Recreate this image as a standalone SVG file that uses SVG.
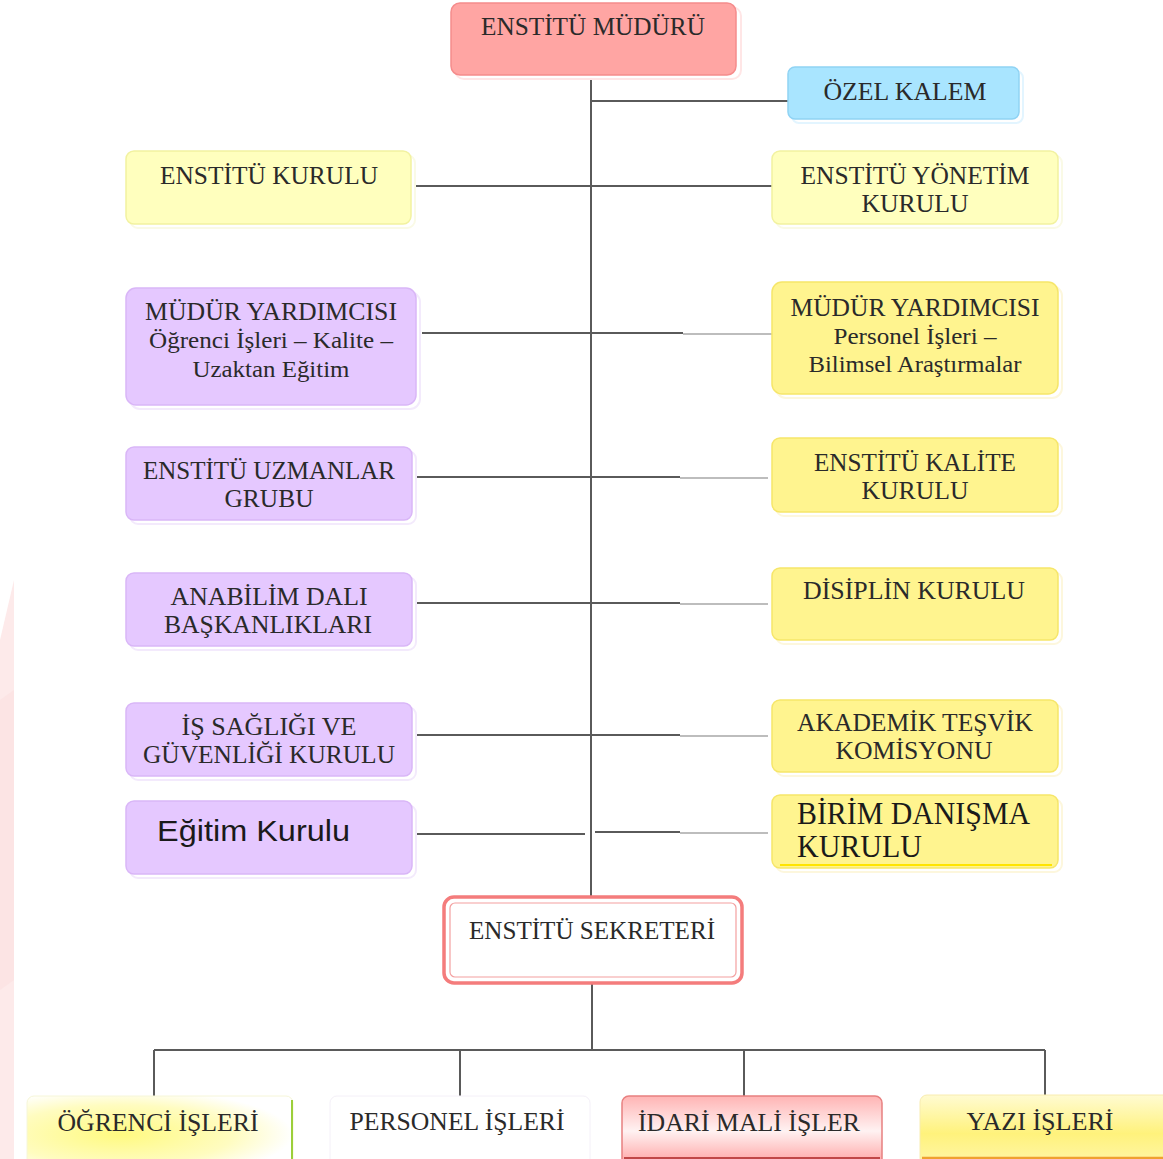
<svg xmlns="http://www.w3.org/2000/svg" width="1163" height="1159" viewBox="0 0 1163 1159">
<defs>
<style>
.t{font-family:"Liberation Serif","Times New Roman",serif;font-size:25px;fill:#2a2a2a;text-anchor:middle}
.m{font-size:23px}
.s{font-family:"Liberation Sans",Arial,sans-serif;font-size:30px;fill:#1a1a1a}
.b{font-size:31px;text-anchor:start;fill:#1a1a1a}
.ln{stroke:#5a5a5a;stroke-width:2;fill:none}
.lt{stroke:#bdbdbd;stroke-width:2;fill:none}
.lav{fill:#e5c8ff;stroke:#d9b6f7;stroke-width:1.5}
.yel{fill:#fff48f;stroke:#f6e66a;stroke-width:1.5}
.ly{fill:#ffffbe;stroke:#f2f2a0;stroke-width:1.5}
</style>
<linearGradient id="gRed" x1="0" y1="0" x2="0" y2="1">
<stop offset="0" stop-color="#ffb4b4"/><stop offset="0.5" stop-color="#fff2f2"/><stop offset="1" stop-color="#ff9f9f"/>
</linearGradient>
<linearGradient id="gYaz" x1="0" y1="0" x2="0" y2="1">
<stop offset="0" stop-color="#fffbd2"/><stop offset="0.55" stop-color="#fff27c"/><stop offset="1" stop-color="#fff6a8"/>
</linearGradient>
<radialGradient id="gOgr" cx="0.35" cy="0.55" r="0.65">
<stop offset="0" stop-color="#fffa80"/><stop offset="0.65" stop-color="#fffcc0"/><stop offset="1" stop-color="#ffffff"/>
</radialGradient>
</defs>
<rect width="1163" height="1159" fill="#fff"/>
<polygon points="0,640 14,580 14,1159 0,1159" fill="#fdeaea"/>
<polygon points="0,700 14,690 14,980 0,990" fill="#fce4e4"/>

<g id="connectors">
<line class="ln" x1="591" y1="78" x2="591" y2="896"/>
<line class="ln" x1="591" y1="101" x2="788" y2="101"/>
<line class="ln" x1="411" y1="186" x2="772" y2="186"/>
<line class="ln" x1="422" y1="333" x2="683" y2="333"/>
<line class="lt" x1="683" y1="334" x2="772" y2="334"/>
<line class="ln" x1="417" y1="477" x2="680" y2="477"/>
<line class="lt" x1="680" y1="478" x2="768" y2="478"/>
<line class="ln" x1="417" y1="603" x2="680" y2="603"/>
<line class="lt" x1="680" y1="604" x2="768" y2="604"/>
<line class="ln" x1="417" y1="735" x2="680" y2="735"/>
<line class="lt" x1="680" y1="736" x2="768" y2="736"/>
<line class="ln" x1="417" y1="834" x2="585" y2="834"/>
<line class="ln" x1="595" y1="832" x2="680" y2="832"/>
<line class="lt" x1="680" y1="833" x2="768" y2="833"/>
<line class="ln" x1="592" y1="984" x2="592" y2="1050"/>
<line class="ln" x1="154" y1="1050" x2="1045" y2="1050"/>
<line class="ln" x1="154" y1="1050" x2="154" y2="1096"/>
<line class="ln" x1="460" y1="1050" x2="460" y2="1096"/>
<line class="ln" x1="744" y1="1050" x2="744" y2="1096"/>
<line class="ln" x1="1045" y1="1050" x2="1045" y2="1096"/>
</g>

<g id="mudur">
<rect x="455" y="7" width="286" height="72" rx="9" fill="#fff" stroke="#ffe6e6" stroke-width="2"/>
<rect x="451" y="3" width="285" height="72" rx="9" fill="#ffa5a3" stroke="#f58c8c" stroke-width="1.5"/>
<text class="t" x="593" y="35" textLength="224" lengthAdjust="spacingAndGlyphs">ENSTİTÜ MÜDÜRÜ</text>
</g>

<g id="ozel-kalem">
<rect x="792" y="71" width="231" height="52" rx="7" fill="#fff" stroke="#e3f5ff" stroke-width="2"/>
<rect x="788" y="67" width="231" height="52" rx="7" fill="#a9e5ff" stroke="#90d3f4" stroke-width="1.5"/>
<text class="t" x="905" y="100" textLength="163" lengthAdjust="spacingAndGlyphs">ÖZEL KALEM</text>
</g>

<g id="enstitu-kurulu">
<rect x="130" y="155" width="285" height="73" rx="8" fill="#fff" stroke="#fafae6" stroke-width="2"/>
<rect class="ly" x="126" y="151" width="285" height="73" rx="8"/>
<text class="t" x="269" y="184" textLength="218" lengthAdjust="spacingAndGlyphs">ENSTİTÜ KURULU</text>
</g>

<g id="yonetim-kurulu">
<rect x="776" y="155" width="286" height="73" rx="8" fill="#fff" stroke="#fafae6" stroke-width="2"/>
<rect class="ly" x="772" y="151" width="286" height="73" rx="8"/>
<text class="t" x="915" y="184" textLength="229" lengthAdjust="spacingAndGlyphs">ENSTİTÜ YÖNETİM</text>
<text class="t" x="915" y="212" textLength="107" lengthAdjust="spacingAndGlyphs">KURULU</text>
</g>

<g id="my-sol">
<rect x="130" y="292" width="290" height="117" rx="10" fill="#fff" stroke="#f3eafc" stroke-width="2"/>
<rect class="lav" x="126" y="288" width="290" height="117" rx="10"/>
<text class="t" x="271" y="320" textLength="252" lengthAdjust="spacingAndGlyphs">MÜDÜR YARDIMCISI</text>
<text class="t m" x="271" y="348" textLength="244" lengthAdjust="spacingAndGlyphs">Öğrenci İşleri – Kalite –</text>
<text class="t m" x="271" y="377" textLength="157" lengthAdjust="spacingAndGlyphs">Uzaktan Eğitim</text>
</g>

<g id="my-sag">
<rect x="776" y="286" width="286" height="112" rx="10" fill="#fff" stroke="#fdf7dd" stroke-width="2"/>
<rect class="yel" x="772" y="282" width="286" height="112" rx="10"/>
<text class="t" x="915" y="316" textLength="249" lengthAdjust="spacingAndGlyphs">MÜDÜR YARDIMCISI</text>
<text class="t m" x="915" y="344" textLength="163" lengthAdjust="spacingAndGlyphs">Personel İşleri –</text>
<text class="t m" x="915" y="372" textLength="213" lengthAdjust="spacingAndGlyphs">Bilimsel  Araştırmalar</text>
</g>

<g id="uzmanlar">
<rect x="130" y="451" width="286" height="73" rx="8" fill="#fff" stroke="#f3eafc" stroke-width="2"/>
<rect class="lav" x="126" y="447" width="286" height="73" rx="8"/>
<text class="t" x="269" y="479" textLength="252" lengthAdjust="spacingAndGlyphs">ENSTİTÜ UZMANLAR</text>
<text class="t" x="269" y="507" textLength="89" lengthAdjust="spacingAndGlyphs">GRUBU</text>
</g>

<g id="kalite-kurulu">
<rect x="776" y="442" width="286" height="74" rx="8" fill="#fff" stroke="#fdf7dd" stroke-width="2"/>
<rect class="yel" x="772" y="438" width="286" height="74" rx="8"/>
<text class="t" x="915" y="471" textLength="202" lengthAdjust="spacingAndGlyphs">ENSTİTÜ KALİTE</text>
<text class="t" x="915" y="499" textLength="107" lengthAdjust="spacingAndGlyphs">KURULU</text>
</g>

<g id="anabilim">
<rect x="130" y="577" width="286" height="73" rx="8" fill="#fff" stroke="#f3eafc" stroke-width="2"/>
<rect class="lav" x="126" y="573" width="286" height="73" rx="8"/>
<text class="t" x="269" y="605" textLength="197" lengthAdjust="spacingAndGlyphs">ANABİLİM DALI</text>
<text class="t" x="268" y="633" textLength="208" lengthAdjust="spacingAndGlyphs">BAŞKANLIKLARI</text>
</g>

<g id="disiplin">
<rect x="776" y="572" width="286" height="72" rx="8" fill="#fff" stroke="#fdf7dd" stroke-width="2"/>
<rect class="yel" x="772" y="568" width="286" height="72" rx="8"/>
<text class="t" x="914" y="599" textLength="222" lengthAdjust="spacingAndGlyphs">DİSİPLİN KURULU</text>
</g>

<g id="is-sagligi">
<rect x="130" y="707" width="286" height="73" rx="8" fill="#fff" stroke="#f3eafc" stroke-width="2"/>
<rect class="lav" x="126" y="703" width="286" height="73" rx="8"/>
<text class="t" x="269" y="735" textLength="175" lengthAdjust="spacingAndGlyphs">İŞ SAĞLIĞI VE</text>
<text class="t" x="269" y="763" textLength="252" lengthAdjust="spacingAndGlyphs">GÜVENLİĞİ KURULU</text>
</g>

<g id="akademik-tesvik">
<rect x="776" y="704" width="286" height="72" rx="8" fill="#fff" stroke="#fdf7dd" stroke-width="2"/>
<rect class="yel" x="772" y="700" width="286" height="72" rx="8"/>
<text class="t" x="915" y="731" textLength="236" lengthAdjust="spacingAndGlyphs">AKADEMİK TEŞVİK</text>
<text class="t" x="914" y="759" textLength="157" lengthAdjust="spacingAndGlyphs">KOMİSYONU</text>
</g>

<g id="egitim-kurulu">
<rect x="130" y="805" width="286" height="73" rx="8" fill="#fff" stroke="#f3eafc" stroke-width="2"/>
<rect class="lav" x="126" y="801" width="286" height="73" rx="8"/>
<text class="s" x="157" y="841" textLength="193" lengthAdjust="spacingAndGlyphs">Eğitim Kurulu</text>
</g>

<g id="birim-danisma">
<rect x="776" y="799" width="286" height="73" rx="8" fill="#fff" stroke="#fdf7dd" stroke-width="2"/>
<rect class="yel" x="772" y="795" width="286" height="73" rx="8"/>
<line x1="780" y1="865" x2="1052" y2="865" stroke="#ffe400" stroke-width="2"/>
<text class="t b" x="797" y="824" textLength="233" lengthAdjust="spacingAndGlyphs">BİRİM DANIŞMA</text>
<text class="t b" x="797" y="857" textLength="125" lengthAdjust="spacingAndGlyphs">KURULU</text>
</g>

<g id="sekreter">
<rect x="444" y="897" width="298" height="86" rx="10" fill="#fff" stroke="#f47c7c" stroke-width="3.5"/>
<rect x="450" y="903" width="286" height="74" rx="5" fill="#fff" stroke="#f3a0a0" stroke-width="1.2"/>
<text class="t" x="592" y="939" textLength="246" lengthAdjust="spacingAndGlyphs">ENSTİTÜ SEKRETERİ</text>
</g>

<g id="ogrenci-isleri">
<rect x="27" y="1096" width="266" height="70" rx="7" fill="url(#gOgr)" stroke="#f6f6d8" stroke-width="1"/>
<line x1="292" y1="1100" x2="292" y2="1159" stroke="#9bcf3a" stroke-width="2"/>
<text class="t" x="158" y="1131" textLength="201" lengthAdjust="spacingAndGlyphs">ÖĞRENCİ İŞLERİ</text>
</g>

<g id="personel-isleri">
<rect x="330" y="1096" width="260" height="70" rx="7" fill="#fff" stroke="#f4f0f8" stroke-width="1"/>
<text class="t" x="457" y="1130" textLength="215" lengthAdjust="spacingAndGlyphs">PERSONEL İŞLERİ</text>
</g>

<g id="idari-mali">
<rect x="622" y="1096" width="260" height="70" rx="7" fill="url(#gRed)" stroke="#e88080" stroke-width="1.5"/>
<line x1="624" y1="1158" x2="880" y2="1158" stroke="#c04848" stroke-width="2"/>
<text class="t" x="749" y="1131" textLength="222" lengthAdjust="spacingAndGlyphs">İDARİ MALİ İŞLER</text>
</g>

<g id="yazi-isleri">
<rect x="920" y="1095" width="250" height="70" rx="7" fill="url(#gYaz)" stroke="#f8ecb0" stroke-width="1"/>
<line x1="922" y1="1158" x2="1163" y2="1158" stroke="#f0a030" stroke-width="2.5"/>
<text class="t" x="1040" y="1130" textLength="147" lengthAdjust="spacingAndGlyphs">YAZI İŞLERİ</text>
</g>
</svg>
